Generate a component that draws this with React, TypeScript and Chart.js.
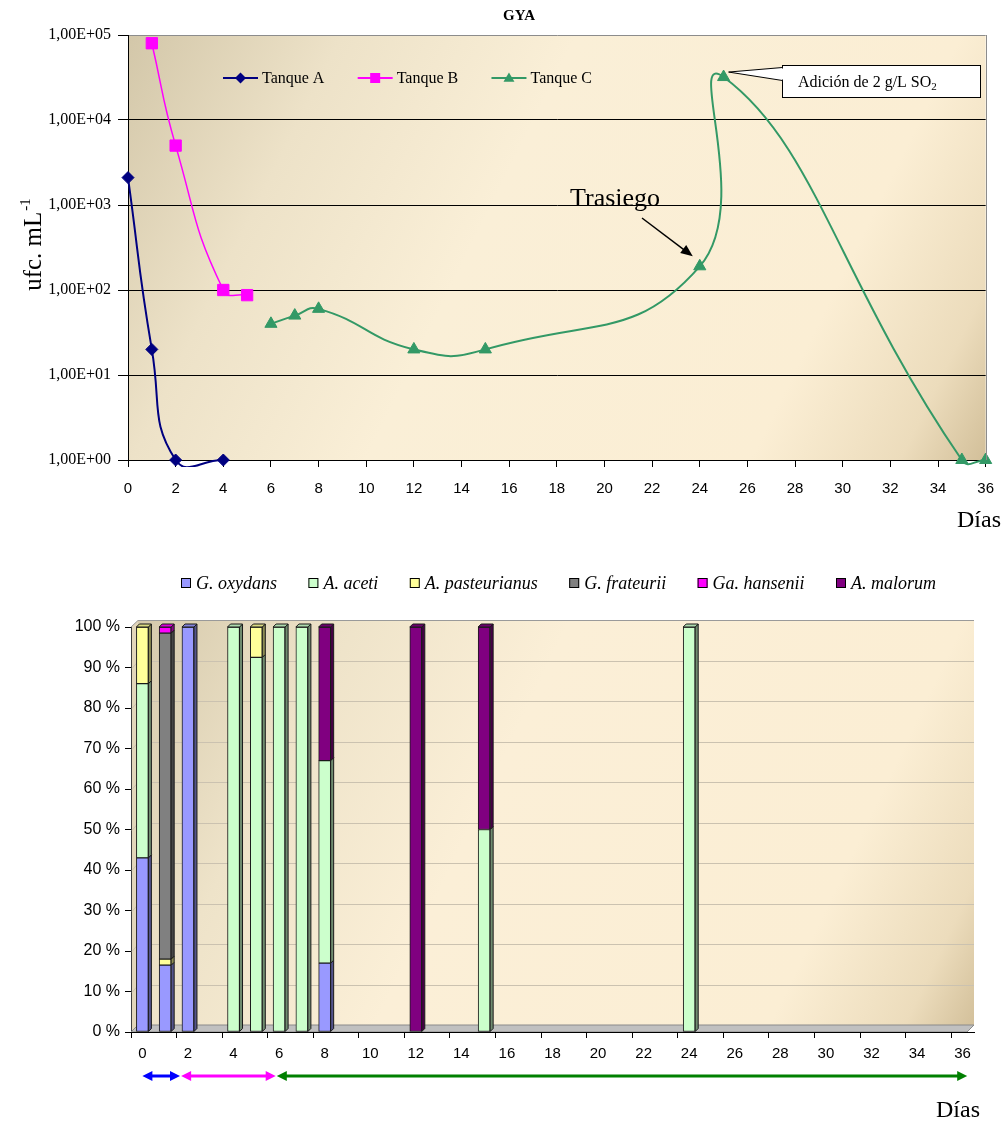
import React, { useEffect, useRef } from 'react';
import { Chart, registerables } from 'chart.js';

Chart.register(...registerables);

const SERIF = '"Liberation Serif", "Times New Roman", serif';
const SANS = '"Liberation Sans", Arial, sans-serif';

// ---------------- Top chart: GYA counts (ufc/mL) ----------------
const chartTitle = 'GYA';
const seriesNames = ['Tanque A', 'Tanque B', 'Tanque C'];
const daysA = [0, 1, 2, 4];
const countsA = [2100, 20, 1, 1];
const daysB = [1, 2, 4, 5];
const countsB = [80000, 5000, 100, 87];
const daysC = [6, 7, 8, 12, 15, 24, 25, 35, 36];
const countsC = [40, 50, 60, 20, 20, 190, 32000, 1, 1];
const yTickValues = [1, 10, 100, 1000, 10000, 100000];
const yTickLabels = ['1,00E+00', '1,00E+01', '1,00E+02', '1,00E+03', '1,00E+04', '1,00E+05'];
const rackingDay = 24;
const sulfiteDay = 25;
const rackingText = 'Trasiego';
const sulfiteText = 'Adición de 2 g/L SO';
const sulfiteSub = '2';
const xTitle = 'Días';

// ---------------- Bottom chart: species (%) ----------------
const speciesNames = ['G. oxydans', 'A. aceti', 'A. pasteurianus', 'G. frateurii', 'Ga. hansenii', 'A. malorum'];
const barDays = [0, 1, 2, 4, 5, 6, 7, 8, 12, 15, 24];
const pctOxydans = [43, 16.5, 100, 0, 0, 0, 0, 17, 0, 0, 0];
const pctAceti = [43, 0, 0, 100, 92.5, 100, 100, 50, 0, 50, 100];
const pctPasteurianus = [14, 1.5, 0, 0, 7.5, 0, 0, 0, 0, 0, 0];
const pctFrateurii = [0, 80.5, 0, 0, 0, 0, 0, 0, 0, 0, 0];
const pctHansenii = [0, 1.5, 0, 0, 0, 0, 0, 0, 0, 0, 0];
const pctMalorum = [0, 0, 0, 0, 0, 0, 0, 33, 100, 50, 0];
const pctTickValues = [0, 10, 20, 30, 40, 50, 60, 70, 80, 90, 100];
const dayTickValues = [0, 2, 4, 6, 8, 10, 12, 14, 16, 18, 20, 22, 24, 26, 28, 30, 32, 34, 36];
// tank periods shown as arrows under the bottom axis (days)
const periodStart = [0, 1.7, 5.9];
const periodEnd = [1.65, 5.85, 36.2];

// ---------------- styles ----------------
const tankColors = ['#000080', '#ff00ff', '#339966'];
const tankMarkers = ['rectRot', 'rect', 'triangle'];
const tankRadius = [6, 8, 7];
const tankWidth = [2, 1.5, 2];
const speciesColors = ['#9999ff', '#ccffcc', '#ffff99', '#808080', '#ff00ff', '#800080'];
const periodColors = ['#0000ff', '#ff00ff', '#008000'];

function shade(hex: string, f: number) {
  const n = parseInt(hex.slice(1), 16);
  const r = Math.round(((n >> 16) & 255) * f);
  const g = Math.round(((n >> 8) & 255) * f);
  const b = Math.round((n & 255) * f);
  return `rgb(${r},${g},${b})`;
}

function drawMarker(ctx: CanvasRenderingContext2D, style: string, x: number, y: number, r: number, color: string) {
  ctx.fillStyle = color;
  ctx.beginPath();
  if (style === 'rectRot') {
    ctx.moveTo(x, y - r); ctx.lineTo(x + r, y); ctx.lineTo(x, y + r); ctx.lineTo(x - r, y);
  } else if (style === 'rect') {
    ctx.rect(x - r, y - r, 2 * r, 2 * r);
  } else {
    ctx.moveTo(x, y - r); ctx.lineTo(x + r, y + r * 0.7); ctx.lineTo(x - r, y + r * 0.7);
  }
  ctx.closePath();
  ctx.fill();
}

function drawArrowHead(ctx: CanvasRenderingContext2D, fx: number, fy: number, tx: number, ty: number, len: number, half: number) {
  const ang = Math.atan2(ty - fy, tx - fx);
  ctx.beginPath();
  ctx.moveTo(tx, ty);
  ctx.lineTo(tx - len * Math.cos(ang) + half * Math.sin(ang), ty - len * Math.sin(ang) - half * Math.cos(ang));
  ctx.lineTo(tx - len * Math.cos(ang) - half * Math.sin(ang), ty - len * Math.sin(ang) + half * Math.cos(ang));
  ctx.closePath();
  ctx.fill();
}

const topDecor = {
  id: 'topDecor',
  beforeDraw(chart: any) {
    const { ctx, chartArea: a } = chart;
    ctx.save();
    const g = ctx.createLinearGradient(a.left, a.top, a.right, a.bottom);
    g.addColorStop(0, '#d3c7a9');
    g.addColorStop(0.2, '#ede2c8');
    g.addColorStop(0.42, '#faefd7');
    g.addColorStop(0.78, '#fbeed4');
    g.addColorStop(0.92, '#ecdcbc');
    g.addColorStop(1, '#d2bf99');
    ctx.fillStyle = g;
    ctx.fillRect(a.left, a.top, a.right - a.left, a.bottom - a.top);
    ctx.restore();
  },
  afterDraw(chart: any) {
    const { ctx, chartArea: a } = chart;
    ctx.save();
    // right border of plot
    ctx.strokeStyle = '#8c8c8c';
    ctx.lineWidth = 1;
    ctx.beginPath();
    ctx.moveTo(Math.round(a.right) + 0.5, a.top);
    ctx.lineTo(Math.round(a.right) + 0.5, a.bottom);
    ctx.stroke();

    // title
    ctx.fillStyle = '#000';
    ctx.font = `bold 15px ${SERIF}`;
    ctx.textAlign = 'center';
    ctx.textBaseline = 'middle';
    ctx.fillText(chartTitle, 519, 16);

    // legend inside plot
    ctx.font = `16px ${SERIF}`;
    ctx.textAlign = 'left';
    const lineLen = 35, tg = 4;
    const widths = seriesNames.map((n) => lineLen + tg + ctx.measureText(n).width);
    const start = 223, end = 592, ly = 78;
    const gap = (end - start - widths.reduce((s, w) => s + w, 0)) / (seriesNames.length - 1);
    let x = start;
    seriesNames.forEach((n, k) => {
      ctx.strokeStyle = tankColors[k];
      ctx.lineWidth = 2;
      ctx.beginPath(); ctx.moveTo(x, ly); ctx.lineTo(x + lineLen, ly); ctx.stroke();
      drawMarker(ctx, tankMarkers[k], x + lineLen / 2, ly, k === 1 ? 5 : 5.5, tankColors[k]);
      ctx.fillStyle = '#000';
      ctx.fillText(n, x + lineLen + tg, ly + 1);
      x += widths[k] + gap;
    });

    // annotations anchored on Tanque C points
    const metaC = chart.getDatasetMeta(2);
    const peak = metaC.data[daysC.indexOf(sulfiteDay)];
    const rack = metaC.data[daysC.indexOf(rackingDay)];

    // callout box
    const bx = 782, by = 65, bw = 198, bh = 32;
    ctx.fillStyle = '#fff';
    ctx.strokeStyle = '#000';
    ctx.lineWidth = 1;
    ctx.fillRect(bx, by, bw, bh);
    ctx.strokeRect(bx + 0.5, by + 0.5, bw, bh);
    ctx.beginPath();
    ctx.moveTo(bx + 0.5, by + 2.5);
    ctx.lineTo(peak.x + 5, peak.y - 5);
    ctx.lineTo(bx + 0.5, by + 15.5);
    ctx.closePath();
    ctx.fill();
    ctx.stroke();
    ctx.fillStyle = '#fff';
    ctx.fillRect(bx - 0.5, by + 3.5, 2, 11);
    ctx.fillStyle = '#000';
    ctx.font = `16px ${SERIF}`;
    ctx.textBaseline = 'alphabetic';
    ctx.fillText(sulfiteText, 798, by + 22);
    const tw = ctx.measureText(sulfiteText).width;
    ctx.font = `11px ${SERIF}`;
    ctx.fillText(sulfiteSub, 798 + tw, by + 25);

    // Trasiego arrow
    ctx.font = `26px ${SERIF}`;
    ctx.fillText(rackingText, 570, 206);
    const ax0 = 642, ay0 = 218, ax1 = rack.x - 7, ay1 = rack.y - 10;
    ctx.strokeStyle = '#000';
    ctx.lineWidth = 1.5;
    ctx.beginPath(); ctx.moveTo(ax0, ay0); ctx.lineTo(ax1 - 6, ay1 - 4.5); ctx.stroke();
    drawArrowHead(ctx, ax0, ay0, ax1, ay1, 12, 5);

    // axis titles
    ctx.font = `24px ${SERIF}`;
    ctx.fillText(xTitle, 957, 527);

    ctx.translate(33, 245);
    ctx.rotate(-Math.PI / 2);
    ctx.font = `25px ${SERIF}`;
    const main = 'ufc. mL';
    const mw = ctx.measureText(main).width;
    ctx.font = `15px ${SERIF}`;
    const sw = ctx.measureText('-1').width;
    const total = mw + sw;
    ctx.font = `25px ${SERIF}`;
    ctx.textBaseline = 'alphabetic';
    ctx.fillText(main, -total / 2, 8);
    ctx.font = `15px ${SERIF}`;
    ctx.fillText('-1', -total / 2 + mw + 1, -3);
    ctx.restore();
  },
};

const bottomDecor = {
  id: 'bottomDecor',
  beforeDraw(chart: any) {
    const { ctx, chartArea: a } = chart;
    const w = 7;
    ctx.save();
    const g = ctx.createLinearGradient(a.left, a.top, a.right, a.bottom);
    g.addColorStop(0, '#d5c9ab');
    g.addColorStop(0.2, '#eee3c9');
    g.addColorStop(0.42, '#fbefd7');
    g.addColorStop(0.8, '#fbeed4');
    g.addColorStop(0.93, '#ecdcbc');
    g.addColorStop(1, '#d2bf99');
    ctx.fillStyle = g;
    ctx.fillRect(a.left + w, a.top - w, a.right - a.left - w, a.bottom - a.top);
    ctx.fillStyle = '#e2d6ba';
    ctx.beginPath();
    ctx.moveTo(a.left, a.top);
    ctx.lineTo(a.left + w, a.top - w);
    ctx.lineTo(a.left + w, a.bottom - w);
    ctx.lineTo(a.left, a.bottom);
    ctx.closePath();
    ctx.fill();
    ctx.strokeStyle = '#9a9a9a';
    ctx.lineWidth = 1;
    ctx.beginPath();
    ctx.moveTo(a.left, a.top);
    ctx.lineTo(a.left + w, a.top - w + 0.5);
    ctx.lineTo(a.right, a.top - w + 0.5);
    ctx.stroke();
    ctx.restore();
  },
  beforeDatasetsDraw(chart: any) {
    const { ctx, chartArea: a, scales } = chart;
    const w = 7;
    ctx.save();
    ctx.strokeStyle = '#cbc2b0';
    ctx.lineWidth = 1;
    pctTickValues.forEach((v) => {
      if (v === 0 || v === 100) return;
      const py = Math.round(scales.y.getPixelForValue(v)) + 0.5;
      ctx.beginPath();
      ctx.moveTo(a.left + 1, py);
      ctx.lineTo(a.left + w, py - w);
      ctx.lineTo(a.right, py - w);
      ctx.stroke();
    });
    // floor
    ctx.fillStyle = '#c0c0c0';
    ctx.strokeStyle = '#8a8a8a';
    ctx.beginPath();
    ctx.moveTo(a.left, a.bottom);
    ctx.lineTo(a.left + w, a.bottom - w);
    ctx.lineTo(a.right, a.bottom - w);
    ctx.lineTo(a.right - w, a.bottom);
    ctx.closePath();
    ctx.fill();
    ctx.stroke();
    ctx.strokeStyle = '#000';
    ctx.beginPath();
    ctx.moveTo(a.left, Math.round(a.bottom) + 0.5);
    ctx.lineTo(a.right - w, Math.round(a.bottom) + 0.5);
    ctx.stroke();
    ctx.restore();
  },
  afterDatasetsDraw(chart: any) {
    const { ctx } = chart;
    const d = 3;
    const topIdx = new Map<number, number>();
    chart.data.datasets.forEach((ds: any, di: number) => ds.data.forEach((p: any) => topIdx.set(p.x, di)));
    ctx.save();
    ctx.lineWidth = 1;
    ctx.strokeStyle = '#1a1a1a';
    chart.data.datasets.forEach((ds: any, di: number) => {
      const meta = chart.getDatasetMeta(di);
      const col = ds.backgroundColor as string;
      meta.data.forEach((el: any, i: number) => {
        const p = ds.data[i];
        const { x, y, base, width } = el.getProps(['x', 'y', 'base', 'width'], true);
        const r = x + width / 2, l = x - width / 2;
        const top = Math.min(y, base), bot = Math.max(y, base);
        ctx.fillStyle = shade(col, 0.55);
        ctx.beginPath();
        ctx.moveTo(r, top); ctx.lineTo(r + d, top - d); ctx.lineTo(r + d, bot - d); ctx.lineTo(r, bot);
        ctx.closePath(); ctx.fill(); ctx.stroke();
        if (topIdx.get(p.x) === di) {
          ctx.fillStyle = shade(col, 0.85);
          ctx.beginPath();
          ctx.moveTo(l, top); ctx.lineTo(l + d, top - d); ctx.lineTo(r + d, top - d); ctx.lineTo(r, top);
          ctx.closePath(); ctx.fill(); ctx.stroke();
        }
      });
    });
    ctx.restore();
  },
  afterDraw(chart: any) {
    const { ctx, scales } = chart;
    ctx.save();
    // legend
    ctx.font = `italic 18px ${SERIF}`;
    ctx.textBaseline = 'middle';
    ctx.textAlign = 'left';
    const box = 10, tg = 5;
    const widths = speciesNames.map((n) => box + tg + ctx.measureText(n).width);
    const start = 181, end = 936, ly = 43;
    const gap = (end - start - widths.reduce((s, w) => s + w, 0)) / (speciesNames.length - 1);
    let x = start;
    speciesNames.forEach((n, k) => {
      ctx.fillStyle = speciesColors[k];
      ctx.fillRect(x, ly - 5, box, box);
      ctx.strokeStyle = '#000';
      ctx.lineWidth = 1;
      ctx.strokeRect(x + 0.5, ly - 4.5, box - 1, box - 1);
      ctx.fillStyle = '#000';
      ctx.fillText(n, x + box + tg, ly + 1);
      x += widths[k] + gap;
    });
    // tank period arrows
    const ay = 536;
    periodStart.forEach((s, k) => {
      const x1 = scales.x.getPixelForValue(s);
      const x2 = scales.x.getPixelForValue(periodEnd[k]);
      ctx.strokeStyle = periodColors[k];
      ctx.fillStyle = periodColors[k];
      ctx.lineWidth = 3;
      ctx.beginPath(); ctx.moveTo(x1 + 6, ay); ctx.lineTo(x2 - 6, ay); ctx.stroke();
      drawArrowHead(ctx, x2, ay, x1, ay, 10, 5);
      drawArrowHead(ctx, x1, ay, x2, ay, 10, 5);
    });
    // axis title
    ctx.fillStyle = '#000';
    ctx.font = `24px ${SERIF}`;
    ctx.textBaseline = 'alphabetic';
    ctx.fillText(xTitle, 936, 577);
    ctx.restore();
  },
};

export default function App() {
  const topRef = useRef<HTMLCanvasElement>(null);
  const botRef = useRef<HTMLCanvasElement>(null);

  useEffect(() => {
    const sets: [number[], number[]][] = [[daysA, countsA], [daysB, countsB], [daysC, countsC]];
    const topChart = new Chart(topRef.current as HTMLCanvasElement, {
      type: 'line',
      data: {
        datasets: sets.map(([days, counts], k) => ({
          label: seriesNames[k],
          data: days.map((d, i) => ({ x: d, y: counts[i] })),
          borderColor: tankColors[k],
          backgroundColor: tankColors[k],
          pointBackgroundColor: tankColors[k],
          pointBorderColor: tankColors[k],
          pointBorderWidth: 1,
          pointStyle: tankMarkers[k],
          pointRadius: tankRadius[k],
          borderWidth: tankWidth[k],
          tension: 0.5,
          capBezierPoints: false,
          fill: false,
          clip: { left: 14, top: 14, right: 14, bottom: 7 },
        })) as any,
      },
      options: {
        responsive: false,
        animation: false,
        devicePixelRatio: 1,
        events: [],
        layout: { padding: { left: 0, right: 18, top: 35, bottom: 0 } },
        plugins: { legend: { display: false }, title: { display: false }, tooltip: { enabled: false } },
        scales: {
          x: {
            type: 'linear',
            min: 0,
            max: 36,
            ticks: { stepSize: 2, autoSkip: false, maxRotation: 0, color: '#000', padding: 13, font: { family: SANS, size: 15 } },
            grid: { drawOnChartArea: false, tickLength: 7, color: '#000', tickColor: '#000' },
            border: { color: '#000' },
            afterFit: (s: any) => { s.height = 75; },
          },
          y: {
            type: 'logarithmic',
            min: 1,
            max: 100000,
            afterBuildTicks: (s: any) => { s.ticks = yTickValues.map((v) => ({ value: v })); },
            ticks: {
              color: '#000',
              padding: 7,
              font: { family: SERIF, size: 16 },
              callback: (_v: any, i: number) => yTickLabels[i],
            },
            grid: {
              color: (c: any) => (c.tick && c.tick.value === 100000 ? '#8c8c8c' : '#000'),
              tickColor: '#000',
              tickLength: 10,
            },
            border: { color: '#000' },
            afterFit: (s: any) => { s.width = 128; },
          },
        } as any,
      },
      plugins: [topDecor],
    });

    const speciesValues = [pctOxydans, pctAceti, pctPasteurianus, pctFrateurii, pctHansenii, pctMalorum];
    const botChart = new Chart(botRef.current as HTMLCanvasElement, {
      type: 'bar',
      data: {
        datasets: speciesValues.map((vals, k) => ({
          label: speciesNames[k],
          data: barDays.map((d, i) => ({ x: d, y: vals[i] })).filter((p) => p.y > 0),
          backgroundColor: speciesColors[k],
          borderColor: '#1a1a1a',
          borderWidth: 1,
          borderSkipped: false,
          barThickness: 12,
        })) as any,
      },
      options: {
        responsive: false,
        animation: false,
        devicePixelRatio: 1,
        events: [],
        layout: { padding: { left: 0, right: 33, top: 87, bottom: 0 } },
        plugins: { legend: { display: false }, title: { display: false }, tooltip: { enabled: false } },
        scales: {
          x: {
            type: 'linear',
            stacked: true,
            offset: false,
            min: -0.5,
            max: 36.5,
            afterBuildTicks: (s: any) => { s.ticks = dayTickValues.map((d) => ({ value: d - 0.5 })); },
            ticks: {
              autoSkip: false,
              maxRotation: 0,
              color: '#000',
              padding: 7,
              labelOffset: 11.4,
              font: { family: SANS, size: 15 },
              callback: (_v: any, i: number) => String(dayTickValues[i]),
            },
            grid: { offset: false, drawOnChartArea: false, tickLength: 6, color: '#000', tickColor: '#000' },
            border: { color: '#000' },
            afterFit: (s: any) => { s.height = 92; },
          },
          y: {
            stacked: true,
            min: 0,
            max: 100,
            afterBuildTicks: (s: any) => { s.ticks = pctTickValues.map((v) => ({ value: v })); },
            ticks: {
              color: '#000',
              padding: 5,
              font: { family: SANS, size: 16 },
              callback: (_v: any, i: number) => `${pctTickValues[i]} %`,
            },
            grid: { drawOnChartArea: false, tickLength: 6, color: '#000', tickColor: '#000' },
            border: { color: '#404040' },
            afterFit: (s: any) => { s.width = 131; },
          },
        } as any,
      },
      plugins: [bottomDecor],
    });

    return () => {
      topChart.destroy();
      botChart.destroy();
    };
  }, []);

  return (
    <div style={{ position: 'absolute', left: 0, top: 0, width: 1007, height: 1124, background: '#fff', overflow: 'hidden' }}>
      <canvas ref={topRef} width={1007} height={535} style={{ position: 'absolute', left: 0, top: 0, width: 1007, height: 535 }} />
      <canvas ref={botRef} width={1007} height={584} style={{ position: 'absolute', left: 0, top: 540, width: 1007, height: 584 }} />
    </div>
  );
}
